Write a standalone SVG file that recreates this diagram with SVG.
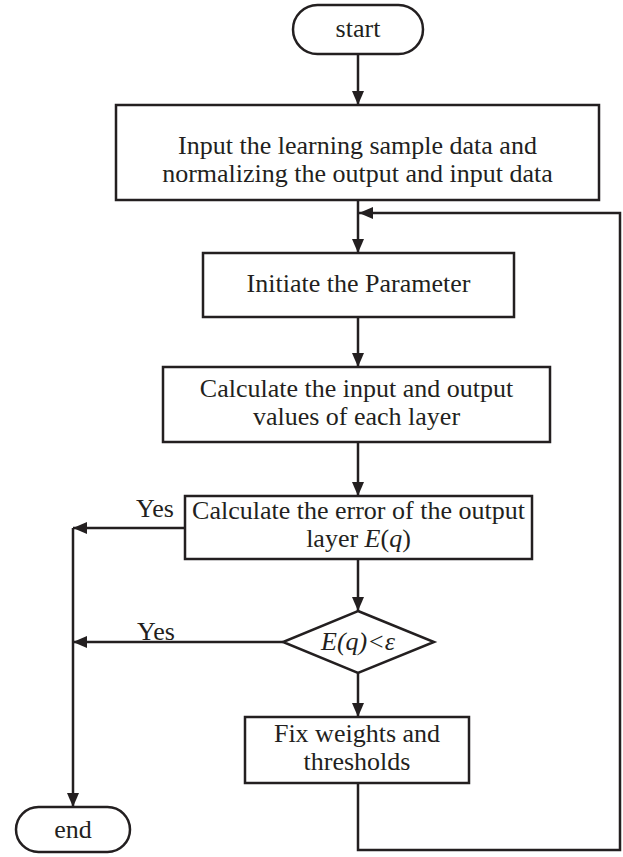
<svg xmlns="http://www.w3.org/2000/svg" width="623" height="857" viewBox="0 0 623 857">
<style>
.box{fill:#fff;stroke:#231f20;stroke-width:2.5}
.ln{fill:none;stroke:#231f20;stroke-width:2.5}
text{font-family:"Liberation Serif","Times New Roman",serif;font-size:26px;fill:#231f20;text-anchor:middle}
.it{font-style:italic}
</style>
<defs>
<marker id="ah" markerUnits="userSpaceOnUse" markerWidth="14" markerHeight="12" refX="14" refY="6" orient="auto">
<path d="M0,0 L14,6 L0,12 Z" fill="#231f20"/>
</marker>
</defs>
<rect width="623" height="857" fill="#fff"/>
<g id="connectors">
<path class="ln" d="M358,54 V105" marker-end="url(#ah)"/>
<path class="ln" d="M358,200 V253" marker-end="url(#ah)"/>
<path class="ln" d="M358,317 V367" marker-end="url(#ah)"/>
<path class="ln" d="M358,442 V496" marker-end="url(#ah)"/>
<path class="ln" d="M358,559 V611" marker-end="url(#ah)"/>
<path class="ln" d="M358,673 V717" marker-end="url(#ah)"/>
<path class="ln" d="M358,783 V850 H620 V213 H359" marker-end="url(#ah)"/>
<path class="ln" d="M185,528 H73" marker-end="url(#ah)"/>
<path class="ln" d="M283,642 H73" marker-end="url(#ah)"/>
<path class="ln" d="M73,528 V807" marker-end="url(#ah)"/>
<text x="155" y="517">Yes</text>
<text x="156" y="640">Yes</text>
</g>
<g id="start">
<rect class="box" x="293" y="5" width="130" height="49" rx="24.5"/>
<text x="358" y="37">start</text>
</g>
<g id="input">
<rect class="box" x="116" y="105" width="483" height="95"/>
<text x="357.5" y="154">Input the learning sample data and</text>
<text x="357.5" y="182">normalizing the output and input data</text>
</g>
<g id="init">
<rect class="box" x="203" y="253" width="311" height="64"/>
<text x="358.5" y="292">Initiate the Parameter</text>
</g>
<g id="calc">
<rect class="box" x="163" y="367" width="387" height="75"/>
<text x="356.5" y="397">Calculate the input and output</text>
<text x="356.5" y="425">values of each layer</text>
</g>
<g id="error">
<rect class="box" x="185" y="496" width="347" height="63"/>
<text x="358.5" y="519">Calculate the error of the output</text>
<text x="358.5" y="547">layer <tspan class="it">E</tspan>(<tspan class="it">q</tspan>)</text>
</g>
<g id="decision">
<polygon class="box" points="358,611 434,642 358,673 283,642"/>
<text x="358" y="650" class="it">E(q)&lt;ε</text>
</g>
<g id="fix">
<rect class="box" x="245" y="717" width="224" height="66"/>
<text x="357" y="742">Fix weights and</text>
<text x="357" y="770">thresholds</text>
</g>
<g id="end">
<rect class="box" x="16" y="807" width="114" height="45" rx="22.5"/>
<text x="73" y="838">end</text>
</g>
</svg>
